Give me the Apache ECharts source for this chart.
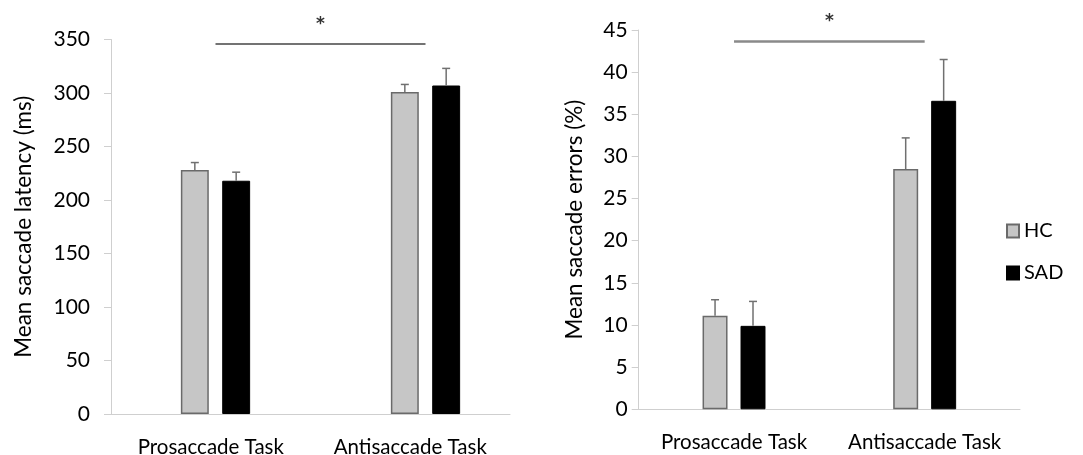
<!DOCTYPE html>
<html>
<head>
<meta charset="utf-8">
<script src="https://cdn.jsdelivr.net/npm/echarts@6/dist/echarts.min.js"></script>
<style>
  html, body { margin: 0; padding: 0; background: #fff; }
  #chart { width: 1083px; height: 455px; }
</style>
</head>
<body>
<div id="chart"></div>
<script>
// Task conditions
const tasks = ['Prosaccade Task', 'Antisaccade Task'];
const groups = ['HC', 'SAD'];

// Saccade latency (ms): means and SEM
const latencyHC = [228, 301];
const latencyHCErr = [7, 7];
const latencySAD = [218, 307];
const latencySADErr = [8, 16];
const latencyTicks = [0, 350, 50];
const latencySig = 346;

// Saccade errors (%): means and SEM
const errorsHC = [11.1, 28.5];
const errorsHCErr = [1.9, 3.7];
const errorsSAD = [9.9, 36.6];
const errorsSADErr = [2.9, 4.9];
const errorsTicks = [0, 45, 5];
const errorsSig = 43.7;

const FONT = 'Lato';
const INK = '#000000';
const HC_FILL = '#c6c6c6';
const HC_EDGE = '#6a6a6a';
const SAD_FILL = '#000000';

// bar geometry as fractions of the category band
const panels = {
  latency: { barFrac: 0.133, gapFrac: 0.48 },
  errors: { barFrac: 0.131, gapFrac: 0.52 }
};

function errorRows(vals, errs, side) {
  return vals.map((v, i) => [i, v, errs[i], side]);
}

function makeErrorRenderer(cfg) {
  return function (params, api) {
    const cat = api.value(0), val = api.value(1), err = api.value(2), side = api.value(3);
    const band = api.size([1, 0])[0];
    const bw = band * cfg.barFrac;
    const off = side * bw * (1 + cfg.gapFrac) / 2;
    const p0 = api.coord([cat, val]);
    const p1 = api.coord([cat, val + err]);
    const x = p0[0] + off;
    const style = { stroke: '#707070', lineWidth: 1.5 };
    return {
      type: 'group',
      children: [
        { type: 'line', shape: { x1: x, y1: p0[1], x2: x, y2: p1[1] }, style: style },
        { type: 'line', shape: { x1: x - 4, y1: p1[1], x2: x + 4, y2: p1[1] }, style: style }
      ]
    };
  };
}

function valueAxis(gridIndex, ticks, name, nameGap, labelMargin, visible) {
  return {
    type: 'value', gridIndex: gridIndex,
    min: ticks[0], max: ticks[1], interval: ticks[2],
    show: visible,
    name: name, nameLocation: 'middle', nameGap: nameGap,
    nameTextStyle: { fontFamily: FONT, fontSize: 22.5, color: INK },
    axisLine: { show: true, lineStyle: { color: '#cfcfcf', width: 1 } },
    axisTick: { show: true, length: 7, lineStyle: { color: '#cfcfcf' } },
    axisLabel: { fontFamily: FONT, fontSize: 21, color: INK, margin: labelMargin },
    splitLine: { show: false }
  };
}

function categoryAxis(gridIndex, visible) {
  return {
    type: 'category', gridIndex: gridIndex, data: tasks, show: visible,
    axisLine: { show: true, lineStyle: { color: '#cfcfcf', width: 1 } },
    axisTick: { show: false },
    axisLabel: { fontFamily: FONT, fontSize: 20.5, color: INK, margin: 23, interval: 0, hideOverlap: false }
  };
}

function sigLine(value, color, width) {
  return {
    silent: true,
    symbol: 'none',
    lineStyle: { color: color, width: width, type: 'solid' },
    label: { show: true, position: 'middle', formatter: '*', fontFamily: 'DejaVu Sans', fontSize: 17, fontWeight: 'bold', color: '#333', distance: 11 },
    data: [[{ coord: [0, value] }, { coord: [1, value] }]]
  };
}

const option = {
  animation: false,
  backgroundColor: '#ffffff',
  grid: [
    // latency panel: axes and labels
    { left: 111, width: 399, top: 39.5, height: 374.5, outerBoundsMode: 'none', containLabel: false },
    // latency panel: bar layer
    { left: 110.5, width: 420, top: 39.5, height: 374.5, outerBoundsMode: 'none', containLabel: false },
    // errors panel
    { left: 638.7, width: 381.3, top: 30, height: 379.3, outerBoundsMode: 'none', containLabel: false }
  ],
  xAxis: [
    categoryAxis(0, true),
    categoryAxis(1, false),
    categoryAxis(2, true)
  ],
  yAxis: [
    valueAxis(0, latencyTicks, 'Mean saccade latency (ms)', 76, 21, true),
    valueAxis(1, latencyTicks, '', 0, 0, false),
    valueAxis(2, errorsTicks, 'Mean saccade errors (%)', 52, 11, true)
  ],
  legend: {
    orient: 'vertical', left: 1006, top: 221, padding: 0,
    data: groups.map(name => ({ name: name, icon: 'rect' })),
    itemWidth: 12, itemHeight: 13, itemGap: 22,
    textStyle: { fontFamily: FONT, fontSize: 20, color: INK },
    selectedMode: false
  },
  series: [
    {
      name: 'HC', type: 'bar', xAxisIndex: 1, yAxisIndex: 1,
      data: latencyHC, barWidth: '13.3%', barGap: '48%',
      itemStyle: { color: HC_FILL, borderColor: HC_EDGE, borderWidth: 1.5 }
    },
    {
      name: 'SAD', type: 'bar', xAxisIndex: 1, yAxisIndex: 1,
      data: latencySAD, barWidth: '13.3%', barGap: '48%',
      itemStyle: { color: SAD_FILL, borderColor: '#000', borderWidth: 1 }
    },
    {
      name: 'HC', type: 'bar', xAxisIndex: 2, yAxisIndex: 2,
      data: errorsHC, barWidth: '13.1%', barGap: '52%',
      itemStyle: { color: HC_FILL, borderColor: HC_EDGE, borderWidth: 1.5 }
    },
    {
      name: 'SAD', type: 'bar', xAxisIndex: 2, yAxisIndex: 2,
      data: errorsSAD, barWidth: '13.1%', barGap: '52%',
      itemStyle: { color: SAD_FILL, borderColor: '#000', borderWidth: 1 }
    },
    {
      type: 'custom', xAxisIndex: 1, yAxisIndex: 1, z: 5,
      renderItem: makeErrorRenderer(panels.latency),
      data: errorRows(latencyHC, latencyHCErr, -1).concat(errorRows(latencySAD, latencySADErr, 1)),
      markLine: sigLine(latencySig, '#444', 1.5)
    },
    {
      type: 'custom', xAxisIndex: 2, yAxisIndex: 2, z: 5,
      renderItem: makeErrorRenderer(panels.errors),
      data: errorRows(errorsHC, errorsHCErr, -1).concat(errorRows(errorsSAD, errorsSADErr, 1)),
      markLine: sigLine(errorsSig, '#8a8a8a', 2.5)
    }
  ]
};

const chart = echarts.init(document.getElementById('chart'), null, { renderer: 'canvas' });
chart.setOption(option);
</script>
</body>
</html>
